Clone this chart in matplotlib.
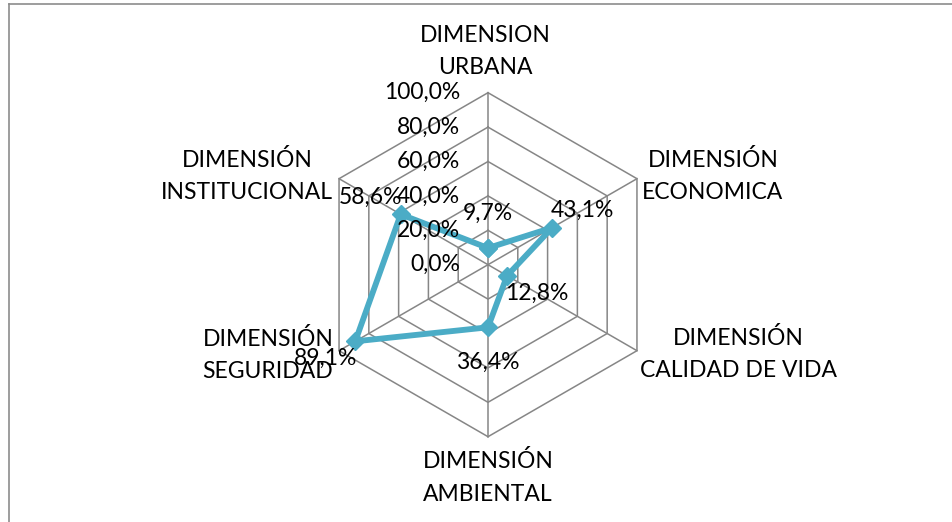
import matplotlib.pyplot as plt
import numpy as np
from matplotlib.lines import Line2D

plt.rcParams['font.family'] = ['Lato', 'DejaVu Sans']

# datos
categorias = ["DIMENSION\nURBANA", "DIMENSIÓN\nECONOMICA", "DIMENSIÓN\nCALIDAD DE VIDA",
              "DIMENSIÓN\nAMBIENTAL", "DIMENSIÓN\nSEGURIDAD", "DIMENSIÓN\nINSTITUCIONAL"]
valores = [9.7, 43.1, 12.8, 36.4, 89.1, 58.6]
niveles = [0, 20, 40, 60, 80, 100]
etiquetas_eje = ["0,0%", "20,0%", "40,0%", "60,0%", "80,0%", "100,0%"]

W, H = 953, 522
cx, cy = 488, 264.7          # centro en px
px = 1.72                    # px por 1%
color = "#4BACC6"
gris = "#868686"
fs = 16.5

fig = plt.figure(figsize=(W / 100, H / 100), dpi=100)
ax = fig.add_axes([0, 0, 1, 1])
ax.set_xlim(-cx / px, (W - cx) / px)
ax.set_ylim(-(H - cy) / px, cy / px)
ax.axis("off")

ang = np.pi / 2 - np.arange(len(categorias)) * 2 * np.pi / len(categorias)
ang_c = np.append(ang, ang[0])

# rejilla hexagonal
for n in niveles[1:]:
    ax.plot(n * np.cos(ang_c), n * np.sin(ang_c), color=gris, lw=1.1, zorder=1)
for a in ang:
    ax.plot([0, 100 * np.cos(a)], [0, 100 * np.sin(a)], color=gris, lw=1.1, zorder=1)

# etiquetas del eje
for n, t in zip(niveles, etiquetas_eje):
    ax.text(-28 / px, n, t, ha="right", va="center", fontsize=fs, zorder=3)

# serie
v = np.array(valores + valores[:1])
ax.plot(v * np.cos(ang_c), v * np.sin(ang_c), color=color, lw=4.2, marker="D",
        markersize=9, zorder=2)

for val, a in zip(valores, ang):
    ax.annotate(f"{val:.1f}%".replace(".", ","), (val * np.cos(a), val * np.sin(a)),
                xytext=(25 * np.cos(a), 25 * np.sin(a)), textcoords="offset points",
                ha="center", va="center", fontsize=fs, zorder=4)

# nombres de categorias (posicion en px)
pos_cat = [(485, 51.5), (713, 176), (738, 354), (488, 477.5), (268, 355), (247, 176)]
for c, (x, y) in zip(categorias, pos_cat):
    ax.text((x - cx) / px, (cy - y) / px, c, ha="center", va="center",
            fontsize=fs, linespacing=1.65, multialignment="center")

# marco
fig.add_artist(Line2D([9 / W, 9 / W], [-0.1, 1 - 4 / H], color="#8c8c8c", lw=1.2))
fig.add_artist(Line2D([9 / W, 1.1], [1 - 4 / H, 1 - 4 / H], color="#8c8c8c", lw=1.2))

fig.savefig("out.png", dpi=100)
